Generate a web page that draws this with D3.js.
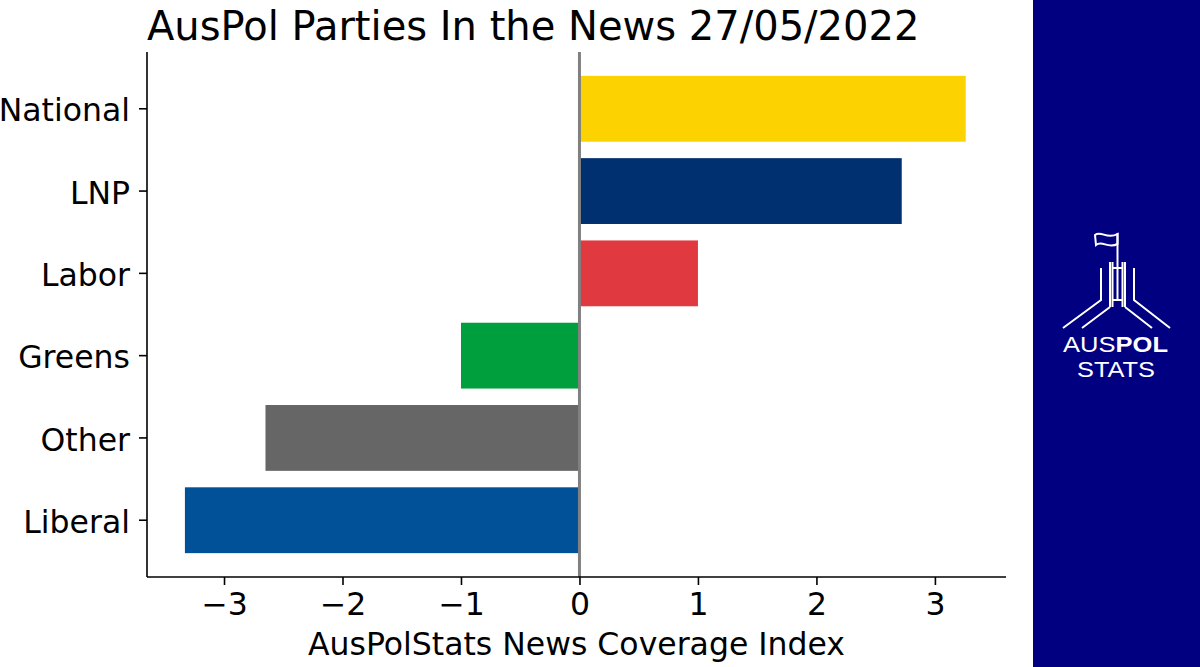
<!DOCTYPE html>
<html>
<head>
<meta charset="utf-8">
<script src="https://cdn.jsdelivr.net/npm/d3@7"></script>
<style>
  body { margin: 0; background: #fff; }
  svg { display: block; font-family: "DejaVu Sans", sans-serif; }
</style>
</head>
<body>
<div id="chart"></div>
<script>
// chart data
var parties = ["National", "LNP", "Labor", "Greens", "Other", "Liberal"];
var index = [3.26, 2.72, 1.0, -1.0, -2.65, -3.33];
var colors = ["#fcd200", "#003070", "#e13940", "#009f3d", "#666666", "#005198"];
var ticks = [-3, -2, -1, 0, 1, 2, 3];

var width = 1200, height = 667;
var margin = { top: 52, left: 147, right: 1006, bottom: 577 };

var svg = d3.select("#chart").append("svg")
  .attr("width", width)
  .attr("height", height);

var x = d3.scaleLinear()
  .domain([-3.65, 3.6])
  .range([margin.left, margin.right]);

var y = d3.scaleBand()
  .domain(parties)
  .range([margin.top, margin.bottom])
  .paddingInner(0.2)
  .paddingOuter(0.29);

// bars
svg.selectAll("rect.bar")
  .data(parties)
  .enter()
  .append("rect")
  .attr("class", "bar")
  .attr("x", function (d, i) { return x(Math.min(0, index[i])); })
  .attr("y", function (d) { return y(d); })
  .attr("width", function (d, i) { return Math.abs(x(index[i]) - x(0)); })
  .attr("height", y.bandwidth())
  .attr("fill", function (d, i) { return colors[i]; });

// zero line
svg.append("line")
  .attr("x1", x(0)).attr("x2", x(0))
  .attr("y1", margin.top).attr("y2", margin.bottom)
  .attr("stroke", "#808080")
  .attr("stroke-width", 3);

// axes
var xAxis = svg.append("g")
  .attr("transform", "translate(0," + margin.bottom + ")")
  .call(d3.axisBottom(x).tickValues(ticks).tickSize(8).tickPadding(8)
    .tickFormat(function (d) { return d < 0 ? "\u2212" + Math.abs(d) : d; }));

var yAxis = svg.append("g")
  .attr("transform", "translate(" + margin.left + ",0)")
  .call(d3.axisLeft(y).tickSize(8).tickPadding(9));

[xAxis, yAxis].forEach(function (g) {
  g.select(".domain").attr("stroke", "#000").attr("stroke-width", 1.6)
    .attr("d", g === xAxis
      ? "M" + margin.left + ",0H" + margin.right
      : "M0," + margin.top + "V" + margin.bottom);
  g.selectAll(".tick line").attr("stroke", "#000").attr("stroke-width", 1.6);
  g.selectAll(".tick text")
    .attr("fill", "#000")
    .style("font-family", "DejaVu Sans")
    .style("font-size", "31.5px");
});
yAxis.selectAll(".tick text").attr("dy", "0.4em");

// title and axis label
svg.append("text")
  .attr("x", margin.left)
  .attr("y", 40)
  .style("font-size", "40px")
  .text("AusPol Parties In the News 27/05/2022");

svg.append("text")
  .attr("x", (margin.left + margin.right) / 2)
  .attr("y", 655)
  .attr("text-anchor", "middle")
  .style("font-size", "31.5px")
  .text("AusPolStats News Coverage Index");

// logo panel on the right
svg.append("rect")
  .attr("x", 1033).attr("y", 0)
  .attr("width", width - 1033).attr("height", height)
  .attr("fill", "#000080");

var logo = svg.append("g")
  .attr("fill", "none")
  .attr("stroke", "#fff")
  .attr("stroke-width", 2)
  .attr("stroke-linejoin", "miter");

var logoLines = [
  "M1117.5,233V301",
  "M1095,235C1101,230 1107,240 1117.5,234V244C1108,249 1102,240 1096,245Z",
  "M1110,262V307M1112.5,262V307M1122.5,262V307M1125,262V307",
  "M1112.5,268H1122.5M1112.5,300H1122.5",
  "M1101,268V300L1063,328M1134,268V300L1170,328",
  "M1110,307L1082,328M1125,307L1152,328"
];
logo.selectAll("path")
  .data(logoLines)
  .enter()
  .append("path")
  .attr("d", function (d) { return d; });

var logoText = svg.append("g")
  .attr("fill", "#fff")
  .style("font-family", "Liberation Sans, Arial, sans-serif")
  .style("font-size", "22px");

var t1 = logoText.append("text").attr("x", 1063).attr("y", 352)
  .attr("textLength", 105).attr("lengthAdjust", "spacingAndGlyphs");
t1.append("tspan").text("AUS");
t1.append("tspan").attr("font-weight", "bold").text("POL");
logoText.append("text").attr("x", 1077).attr("y", 377)
  .attr("textLength", 78).attr("lengthAdjust", "spacingAndGlyphs")
  .text("STATS");
</script>
</body>
</html>
